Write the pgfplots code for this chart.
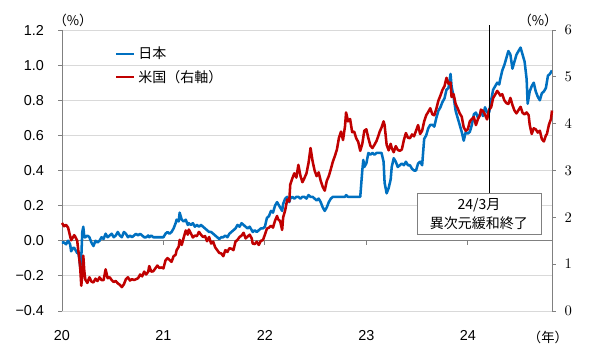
\documentclass[border=0pt]{standalone}
\usepackage{pgfplots}
\pgfplotsset{compat=1.18}
\usepackage{fontspec}
\setmainfont{Liberation Sans}
\newfontfamily\cjk{Noto Sans CJK JP}
\definecolor{jpblue}{RGB}{0,112,192}
\definecolor{usred}{RGB}{192,0,0}
\definecolor{gridgray}{RGB}{217,217,217}
\definecolor{axgray}{RGB}{128,128,128}
\begin{document}
\begin{tikzpicture}
\useasboundingbox (-46.5pt,-35.25pt) rectangle (403.5pt,233.25pt);
\begin{axis}[
  scale only axis, width=367.5pt, height=210.75pt,
  at={(0,0)}, anchor=south west, clip=false,
  xmin=2020, xmax=2024.83, ymin=-0.4, ymax=1.2,
  axis x line*=bottom, axis y line*=left,
  x axis line style={draw=none}, y axis line style={axgray, line width=0.6pt},
  xtick={2020,2021,2022,2023,2024}, xticklabels={20,21,22,23,24},
  xtick style={draw=none},
  ytick={-0.4,-0.2,0,0.2,0.4,0.6,0.8,1.0,1.2},
  yticklabels={−0.4,−0.2,0.0,0.2,0.4,0.6,0.8,1.0,1.2},
  ytick style={axgray, line width=0.6pt},
  tick align=outside, major tick length=3pt,
  ymajorgrids, major grid style={gridgray, line width=0.6pt},
  ticklabel style={font=\fontsize{10.8}{12}\selectfont},
  yticklabel style={xshift=-7pt},
  xticklabel style={yshift=-8pt},
]
\draw[axgray, line width=0.7pt] (axis cs:2020,0) -- (axis cs:2024.83,0);
\pgfplotsinvokeforeach{2021,2022,2023,2024}{\draw[axgray, line width=0.6pt] (axis cs:#1,0) -- ++(0pt,-3pt);}
\addplot[jpblue, line width=1.9pt, line join=round] coordinates {
(2020.00,-0.01)(2020.02,-0.01)(2020.04,-0.02)(2020.06,0.00)(2020.08,-0.02)(2020.09,-0.06)(2020.11,-0.04)(2020.12,-0.04)(2020.13,-0.05)(2020.15,-0.07)(2020.16,-0.06)(2020.17,-0.10)(2020.18,-0.15)(2020.19,-0.10)(2020.20,0.05)(2020.21,0.08)(2020.22,0.02)(2020.23,0.02)(2020.25,0.03)(2020.27,0.02)(2020.29,-0.01)(2020.31,-0.03)(2020.33,0.00)(2020.35,-0.01)(2020.37,0.00)(2020.39,0.02)(2020.41,0.01)(2020.43,0.04)(2020.45,0.02)(2020.47,0.03)(2020.49,0.04)(2020.51,0.02)(2020.53,0.03)(2020.55,0.05)(2020.57,0.03)(2020.59,0.02)(2020.61,0.05)(2020.63,0.04)(2020.65,0.02)(2020.67,0.03)(2020.69,0.02)(2020.71,0.03)(2020.73,0.04)(2020.75,0.03)(2020.77,0.04)(2020.79,0.03)(2020.81,0.02)(2020.83,0.02)(2020.85,0.03)(2020.86,0.02)(2020.88,0.03)(2020.90,0.02)(2020.92,0.02)(2020.94,0.02)(2020.96,0.02)(2020.98,0.02)
(2021.00,0.02)(2021.02,0.04)(2021.04,0.05)(2021.06,0.04)(2021.08,0.05)(2021.10,0.07)(2021.12,0.10)(2021.13,0.12)(2021.15,0.11)(2021.16,0.16)(2021.18,0.12)(2021.20,0.11)(2021.22,0.12)(2021.24,0.09)(2021.25,0.10)(2021.27,0.09)(2021.29,0.10)(2021.31,0.08)(2021.33,0.09)(2021.35,0.08)(2021.37,0.09)(2021.39,0.08)(2021.41,0.07)(2021.43,0.06)(2021.45,0.05)(2021.47,0.05)(2021.49,0.04)(2021.51,0.03)(2021.53,0.02)(2021.55,0.01)(2021.57,0.02)(2021.59,0.02)(2021.61,0.03)(2021.63,0.02)(2021.65,0.04)(2021.67,0.05)(2021.69,0.06)(2021.71,0.07)(2021.73,0.09)(2021.75,0.08)(2021.77,0.10)(2021.79,0.09)(2021.81,0.08)(2021.83,0.07)(2021.85,0.08)(2021.87,0.06)(2021.88,0.05)(2021.90,0.06)(2021.92,0.05)(2021.94,0.06)(2021.96,0.07)(2021.98,0.07)
(2022.00,0.08)(2022.02,0.13)(2022.04,0.14)(2022.06,0.17)(2022.08,0.16)(2022.10,0.20)(2022.12,0.22)(2022.13,0.21)(2022.15,0.19)(2022.17,0.17)(2022.18,0.21)(2022.20,0.24)(2022.22,0.25)(2022.24,0.22)(2022.25,0.24)(2022.27,0.25)(2022.29,0.24)(2022.31,0.25)(2022.33,0.25)(2022.35,0.24)(2022.37,0.25)(2022.39,0.25)(2022.41,0.24)(2022.43,0.26)(2022.45,0.25)(2022.47,0.25)(2022.49,0.24)(2022.51,0.23)(2022.53,0.24)(2022.55,0.22)(2022.57,0.19)(2022.59,0.17)(2022.61,0.19)(2022.63,0.22)(2022.65,0.24)(2022.67,0.25)(2022.69,0.25)(2022.71,0.25)(2022.73,0.25)(2022.75,0.25)(2022.77,0.25)(2022.79,0.25)(2022.80,0.26)(2022.82,0.25)(2022.84,0.25)(2022.86,0.25)(2022.88,0.25)(2022.90,0.25)(2022.92,0.25)(2022.94,0.25)(2022.96,0.40)(2022.97,0.46)(2022.98,0.42)
(2023.00,0.44)(2023.02,0.50)(2023.04,0.49)(2023.06,0.50)(2023.08,0.49)(2023.10,0.50)(2023.12,0.50)(2023.13,0.50)(2023.15,0.50)(2023.17,0.45)(2023.18,0.33)(2023.20,0.27)(2023.22,0.30)(2023.24,0.35)(2023.25,0.42)(2023.27,0.47)(2023.29,0.45)(2023.31,0.42)(2023.33,0.43)(2023.35,0.44)(2023.37,0.43)(2023.39,0.45)(2023.41,0.43)(2023.43,0.43)(2023.45,0.41)(2023.47,0.40)(2023.49,0.40)(2023.51,0.44)(2023.53,0.45)(2023.55,0.43)(2023.57,0.58)(2023.59,0.60)(2023.61,0.64)(2023.63,0.66)(2023.65,0.66)(2023.67,0.65)(2023.69,0.70)(2023.71,0.74)(2023.73,0.76)(2023.75,0.79)(2023.77,0.81)(2023.79,0.86)(2023.81,0.87)(2023.83,0.95)(2023.84,0.88)(2023.86,0.82)(2023.88,0.74)(2023.90,0.70)(2023.92,0.66)(2023.94,0.62)(2023.96,0.57)(2023.98,0.62)
(2024.00,0.61)(2024.02,0.62)(2024.04,0.66)(2024.06,0.72)(2024.08,0.73)(2024.10,0.70)(2024.12,0.72)(2024.13,0.74)(2024.15,0.71)(2024.17,0.76)(2024.19,0.73)(2024.21,0.73)(2024.23,0.80)(2024.25,0.86)(2024.27,0.88)(2024.29,0.90)(2024.31,0.89)(2024.32,0.92)(2024.34,0.97)(2024.36,1.00)(2024.38,1.04)(2024.40,1.08)(2024.42,1.06)(2024.44,0.98)(2024.46,1.02)(2024.48,1.06)(2024.50,1.08)(2024.52,1.10)(2024.54,1.06)(2024.56,1.02)(2024.58,0.92)(2024.59,0.78)(2024.61,0.85)(2024.63,0.88)(2024.65,0.90)(2024.67,0.85)(2024.69,0.82)(2024.71,0.80)(2024.73,0.84)(2024.75,0.85)(2024.77,0.87)(2024.79,0.94)(2024.81,0.95)(2024.83,0.97)
};
\node[font=\cjk\fontsize{10}{12}\selectfont] at (rel axis cs:0,1) [xshift=8.25pt, yshift=7.5pt] {（\%）};
\node[font=\cjk\fontsize{10}{12}\selectfont] at (rel axis cs:1,0) [xshift=-3pt, yshift=-19.5pt] {（年）};
\end{axis}
\begin{axis}[
  scale only axis, width=367.5pt, height=210.75pt,
  at={(0,0)}, anchor=south west, clip=false,
  xmin=2020, xmax=2024.83, ymin=0, ymax=6,
  axis x line=none, axis y line*=right,
  y axis line style={axgray, line width=0.6pt},
  ytick={0,1,2,3,4,5,6},
  ytick style={axgray, line width=0.6pt},
  tick align=outside, major tick length=3pt,
  ticklabel style={font=\fontsize{10.8}{12}\selectfont},
  yticklabel style={xshift=3pt},
  legend style={draw=none, fill=none, at={(0.108,0.95)}, anchor=north west, inner sep=0pt,
    font=\cjk\fontsize{10.5}{12}\selectfont, row sep=3pt},
  legend cell align=left,
  legend image code/.code={\draw[#1, line width=1.9pt] (0pt,0pt) -- (13.5pt,0pt);},
]
\addlegendimage{jpblue}
\addlegendentry{日本}
\addplot[usred, line width=1.9pt, line join=round] coordinates {
(2020.00,1.88)(2020.02,1.81)(2020.04,1.84)(2020.06,1.78)(2020.08,1.60)(2020.09,1.51)(2020.11,1.58)(2020.12,1.62)(2020.13,1.59)(2020.15,1.50)(2020.16,1.30)(2020.17,1.13)(2020.18,0.90)(2020.19,0.54)(2020.20,0.76)(2020.21,1.18)(2020.22,0.85)(2020.23,0.67)(2020.25,0.60)(2020.27,0.72)(2020.29,0.63)(2020.31,0.61)(2020.33,0.69)(2020.35,0.64)(2020.37,0.72)(2020.39,0.66)(2020.41,0.66)(2020.43,0.89)(2020.45,0.70)(2020.47,0.72)(2020.49,0.66)(2020.51,0.62)(2020.53,0.64)(2020.55,0.59)(2020.57,0.56)(2020.59,0.51)(2020.61,0.57)(2020.63,0.68)(2020.65,0.72)(2020.67,0.65)(2020.69,0.68)(2020.71,0.66)(2020.73,0.68)(2020.75,0.70)(2020.77,0.78)(2020.79,0.74)(2020.81,0.84)(2020.83,0.78)(2020.85,0.84)(2020.86,0.96)(2020.88,0.84)(2020.90,0.85)(2020.92,0.91)(2020.94,0.97)(2020.96,0.92)(2020.98,0.93)
(2021.00,0.91)(2021.02,1.08)(2021.04,1.13)(2021.06,1.09)(2021.08,1.05)(2021.10,1.17)(2021.12,1.20)(2021.13,1.30)(2021.15,1.37)(2021.16,1.52)(2021.18,1.41)(2021.20,1.57)(2021.22,1.72)(2021.24,1.63)(2021.25,1.74)(2021.27,1.66)(2021.29,1.57)(2021.31,1.61)(2021.33,1.60)(2021.35,1.69)(2021.37,1.63)(2021.39,1.58)(2021.41,1.60)(2021.43,1.49)(2021.45,1.58)(2021.47,1.44)(2021.49,1.48)(2021.51,1.36)(2021.53,1.30)(2021.55,1.24)(2021.57,1.23)(2021.59,1.17)(2021.61,1.30)(2021.63,1.26)(2021.65,1.34)(2021.67,1.33)(2021.69,1.30)(2021.71,1.48)(2021.73,1.52)(2021.75,1.58)(2021.77,1.61)(2021.79,1.67)(2021.81,1.55)(2021.83,1.59)(2021.85,1.63)(2021.87,1.55)(2021.88,1.44)(2021.90,1.43)(2021.92,1.48)(2021.94,1.41)(2021.96,1.50)(2021.98,1.51)
(2022.00,1.63)(2022.02,1.76)(2022.04,1.78)(2022.06,1.82)(2022.08,1.78)(2022.10,1.93)(2022.12,2.03)(2022.13,1.96)(2022.15,1.92)(2022.17,1.73)(2022.18,2.00)(2022.20,2.15)(2022.22,2.38)(2022.24,2.34)(2022.25,2.70)(2022.27,2.83)(2022.29,2.94)(2022.31,2.85)(2022.33,3.12)(2022.35,2.89)(2022.37,2.75)(2022.39,2.84)(2022.41,2.94)(2022.43,3.16)(2022.45,3.48)(2022.47,3.20)(2022.49,3.00)(2022.51,2.88)(2022.53,2.96)(2022.55,2.78)(2022.57,2.65)(2022.59,2.57)(2022.61,2.78)(2022.63,2.88)(2022.65,3.03)(2022.67,3.19)(2022.69,3.31)(2022.71,3.45)(2022.73,3.70)(2022.75,3.83)(2022.77,3.65)(2022.79,3.95)(2022.80,4.24)(2022.82,4.05)(2022.84,4.10)(2022.86,3.82)(2022.88,3.83)(2022.90,3.69)(2022.92,3.61)(2022.94,3.42)(2022.96,3.57)(2022.98,3.85)
(2023.00,3.88)(2023.02,3.69)(2023.04,3.53)(2023.06,3.48)(2023.08,3.55)(2023.10,3.63)(2023.12,3.75)(2023.13,3.82)(2023.15,3.92)(2023.17,4.05)(2023.18,3.97)(2023.20,3.55)(2023.22,3.43)(2023.24,3.57)(2023.25,3.48)(2023.27,3.39)(2023.29,3.52)(2023.31,3.44)(2023.33,3.42)(2023.35,3.45)(2023.37,3.65)(2023.39,3.80)(2023.41,3.70)(2023.43,3.69)(2023.45,3.77)(2023.47,3.73)(2023.49,3.85)(2023.51,3.97)(2023.53,3.78)(2023.55,3.85)(2023.57,4.05)(2023.59,4.18)(2023.61,4.25)(2023.63,4.33)(2023.65,4.20)(2023.67,4.18)(2023.69,4.32)(2023.71,4.49)(2023.73,4.60)(2023.75,4.72)(2023.77,4.80)(2023.79,4.98)(2023.81,4.85)(2023.83,4.88)(2023.84,4.57)(2023.86,4.63)(2023.88,4.42)(2023.90,4.33)(2023.92,4.22)(2023.94,4.15)(2023.96,3.92)(2023.98,3.85)
(2024.00,3.88)(2024.02,4.05)(2024.04,4.10)(2024.06,4.14)(2024.08,3.97)(2024.10,4.10)(2024.12,4.18)(2024.13,4.30)(2024.15,4.27)(2024.17,4.19)(2024.19,4.09)(2024.21,4.30)(2024.23,4.35)(2024.25,4.55)(2024.27,4.62)(2024.29,4.70)(2024.31,4.64)(2024.32,4.60)(2024.34,4.63)(2024.36,4.50)(2024.38,4.44)(2024.40,4.42)(2024.42,4.55)(2024.44,4.40)(2024.46,4.28)(2024.48,4.22)(2024.50,4.29)(2024.52,4.36)(2024.54,4.23)(2024.56,4.20)(2024.58,4.24)(2024.60,4.18)(2024.61,3.98)(2024.63,3.78)(2024.65,3.90)(2024.67,3.88)(2024.69,3.81)(2024.71,3.85)(2024.73,3.67)(2024.75,3.62)(2024.77,3.75)(2024.78,3.78)(2024.80,3.98)(2024.82,4.10)(2024.83,4.28)
};
\addlegendentry{米国（右軸）}
\draw[black, line width=0.9pt] (axis cs:2024.21,6.1) -- (axis cs:2024.21,2.52);
\node[draw=axgray, fill=white, line width=0.6pt, align=center, minimum width=93pt, minimum height=30.75pt, inner sep=1pt,
  font=\cjk\fontsize{10.5}{14.25}\selectfont] at (axis cs:2024.11,2.08) {24/3月\\異次元緩和終了};
\node[font=\cjk\fontsize{10}{12}\selectfont] at (rel axis cs:1,1) [xshift=-10.5pt, yshift=7.5pt] {（\%）};
\end{axis}
\end{tikzpicture}
\end{document}
